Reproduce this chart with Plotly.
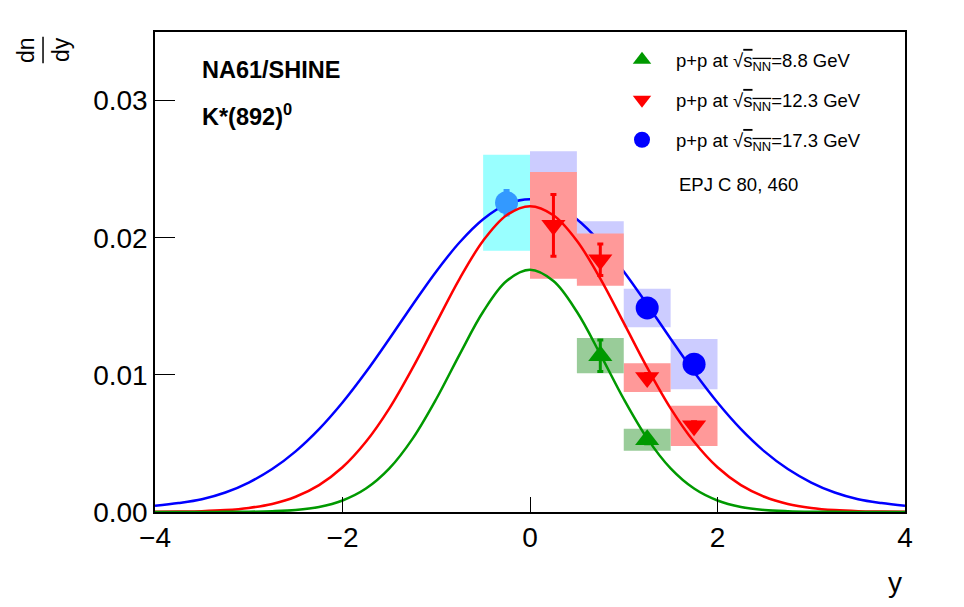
import plotly.graph_objects as go

# --- data ---
y_grid = [-4.0, -3.75, -3.5, -3.25, -3.0, -2.75, -2.5, -2.25, -2.0, -1.75, -1.5,
          -1.25, -1.0, -0.75, -0.5, -0.25, 0.0, 0.25, 0.5, 0.75, 1.0, 1.25,
          1.5, 1.75, 2.0, 2.25, 2.5, 2.75, 3.0, 3.25, 3.5, 3.75, 4.0]

# fitted curves (dn/dy vs y), one value per y_grid point
fit_88 = [0.0, 0.0, 0.0, 0.00001, 0.00002, 0.00006, 0.00015, 0.00037, 0.00084,
          0.00171, 0.00318, 0.00537, 0.00824, 0.0115, 0.0146, 0.01684, 0.01766,
          0.01684, 0.0146, 0.0115, 0.00824, 0.00537, 0.00318, 0.00171, 0.00084,
          0.00037, 0.00015, 0.00006, 0.00002, 0.00001, 0.0, 0.0, 0.0]
fit_123 = [0.00001, 0.00003, 0.00006, 0.00014, 0.0003, 0.00059, 0.00111, 0.00196,
           0.00326, 0.00512, 0.00756, 0.01053, 0.01379, 0.01702, 0.01978, 0.02164,
           0.0223, 0.02164, 0.01978, 0.01702, 0.01379, 0.01053, 0.00756, 0.00512,
           0.00326, 0.00196, 0.00111, 0.00059, 0.0003, 0.00014, 0.00006, 0.00003, 0.00001]
fit_173 = [0.00045, 0.00065, 0.00093, 0.00142, 0.00215, 0.00313, 0.00442, 0.00604,
           0.00798, 0.0102, 0.01263, 0.01513, 0.01754, 0.01967, 0.02135, 0.02243,
           0.0228, 0.02243, 0.02135, 0.01967, 0.01754, 0.01513, 0.01263, 0.0102,
           0.00798, 0.00604, 0.00442, 0.00313, 0.00215, 0.00142, 0.00093, 0.00065, 0.00045]

# 8.8 GeV
x_88 = [0.75, 1.25]
v_88 = [0.0114, 0.00527]
stat_88 = [0.00115, 0.0003]
sys_88 = [0.00128, 0.0008]

# 12.3 GeV
x_123 = [0.25, 0.75, 1.25, 1.75]
v_123 = [0.0209, 0.0184, 0.0098, 0.00628]
stat_123 = [0.00225, 0.00115, 0.0003, 0.0003]
sys_123 = [0.0039, 0.0019, 0.00105, 0.00146]

# 17.3 GeV
x_173 = [0.25, 0.75, 1.25, 1.75]
v_173 = [0.0225, 0.0190, 0.01488, 0.01078]
stat_173 = [0.0009, 0.0008, 0.0004, 0.0004]
sys_173 = [0.0038, 0.0022, 0.0014, 0.00183]

# 17.3 GeV reflected point
x_refl = [-0.25]
v_refl = [0.02255]
stat_refl = [0.0009]
sys_refl = [0.0035]

FONT = 'Liberation Sans, Arial, Helvetica, sans-serif'


def boxes(xs, ys, errs, hw=0.25):
    bx, by = [], []
    for x, y, e in zip(xs, ys, errs):
        bx += [x - hw, x + hw, x + hw, x - hw, x - hw, None]
        by += [y - e, y - e, y + e, y + e, y - e, None]
    return bx, by


def box_trace(xs, ys, errs, color):
    bx, by = boxes(xs, ys, errs)
    return go.Scatter(x=bx, y=by, mode='none', fill='toself', fillcolor=color,
                      hoverinfo='skip', showlegend=False)


def curve_trace(vals, color):
    return go.Scatter(x=y_grid, y=vals, mode='lines',
                      line=dict(color=color, width=2.5, shape='spline', smoothing=1.0),
                      hoverinfo='skip', showlegend=False)


def point_trace(xs, ys, errs, color, symbol, size, name=None, rank=None):
    return go.Scatter(
        x=xs, y=ys, mode='markers', name=name,
        marker=dict(color=color, symbol=symbol, size=size, line=dict(width=0)),
        error_y=dict(type='data', array=errs, color=color, thickness=3, width=3),
        showlegend=name is not None,
        legendrank=rank if rank is not None else 1000,
        legendgroup=name if name is not None else None,
    )


sqrt_s = "√<span style='text-decoration:overline'>s<sub>NN</sub></span>"

fig = go.Figure()

# 17.3 GeV (drawn first)
fig.add_trace(box_trace(x_refl, v_refl, sys_refl, '#99ffff'))
fig.add_trace(box_trace(x_173, v_173, sys_173, '#ccccff'))
fig.add_trace(curve_trace(fit_173, '#0000ff'))
fig.add_trace(point_trace(x_refl, v_refl, stat_refl, '#3399ff', 'circle', 23))
fig.add_trace(point_trace(x_173, v_173, stat_173, '#0000ff', 'circle', 23,
                          name='p+p at ' + sqrt_s + '=17.3 GeV', rank=3))

# 12.3 GeV
fig.add_trace(box_trace(x_123, v_123, sys_123, '#ff9999'))
fig.add_trace(curve_trace(fit_123, '#ff0000'))
fig.add_trace(point_trace(x_123, v_123, stat_123, '#ff0000', 'triangle-down', 21,
                          name='p+p at ' + sqrt_s + '=12.3 GeV', rank=2))

# 8.8 GeV
fig.add_trace(box_trace(x_88, v_88, sys_88, '#99cc99'))
fig.add_trace(curve_trace(fit_88, '#009900'))
fig.add_trace(point_trace(x_88, v_88, stat_88, '#009900', 'triangle-up', 21,
                          name='p+p at ' + sqrt_s + '=8.8 GeV', rank=1))

fig.update_layout(
    width=956, height=599,
    margin=dict(l=147, r=59, t=24, b=95),
    paper_bgcolor='white', plot_bgcolor='white',
    font=dict(family=FONT, color='black'),
    legend=dict(x=0.604, y=0.981, xanchor='left', yanchor='top',
                traceorder='grouped', tracegroupgap=13, itemwidth=58,
                bgcolor='rgba(0,0,0,0)', borderwidth=0,
                font=dict(size=18.5, family=FONT)),
    annotations=[
        dict(text='<b>NA61/SHINE</b>', x=0.06, y=0.921, xref='paper', yref='paper',
             xanchor='left', yanchor='middle', showarrow=False, font=dict(size=23.5)),
        dict(text='<b>K*(892)<sup>0</sup></b>', x=0.06, y=0.827, xref='paper', yref='paper',
             xanchor='left', yanchor='middle', showarrow=False, font=dict(size=23.5)),
        dict(text='EPJ C 80, 460', x=0.696, y=0.683, xref='paper', yref='paper',
             xanchor='left', yanchor='middle', showarrow=False, font=dict(size=18.5)),
        dict(text='y', x=0.999, y=-0.146, xref='paper', yref='paper',
             xanchor='right', yanchor='middle', showarrow=False, font=dict(size=28)),
        dict(text='dn', x=-0.172, y=0.9625, xref='paper', yref='paper', textangle=-90,
             xanchor='center', yanchor='middle', showarrow=False, font=dict(size=23)),
        dict(text='dy', x=-0.1253, y=0.9625, xref='paper', yref='paper', textangle=-90,
             xanchor='center', yanchor='middle', showarrow=False, font=dict(size=23)),
    ],
    shapes=[
        dict(type='line', xref='paper', yref='paper', x0=-0.1493, x1=-0.1493,
             y0=0.935, y1=0.99, line=dict(color='black', width=1.5)),
    ],
)

fig.update_xaxes(
    range=[-4, 4], tickvals=[-4, -2, 0, 2, 4],
    ticks='inside', ticklen=15, tickwidth=1, tickcolor='black',
    showline=True, linecolor='black', linewidth=1.5, mirror=True,
    showgrid=False, zeroline=False, tickfont=dict(size=28),
)
fig.update_yaxes(
    range=[0, 0.035], tickvals=[0, 0.01, 0.02, 0.03], tickformat='.2f',
    ticks='inside', ticklen=20, tickwidth=1, tickcolor='black',
    showline=True, linecolor='black', linewidth=1.5, mirror=True,
    showgrid=False, zeroline=False, tickfont=dict(size=28),
)

fig.write_html('out.html')
